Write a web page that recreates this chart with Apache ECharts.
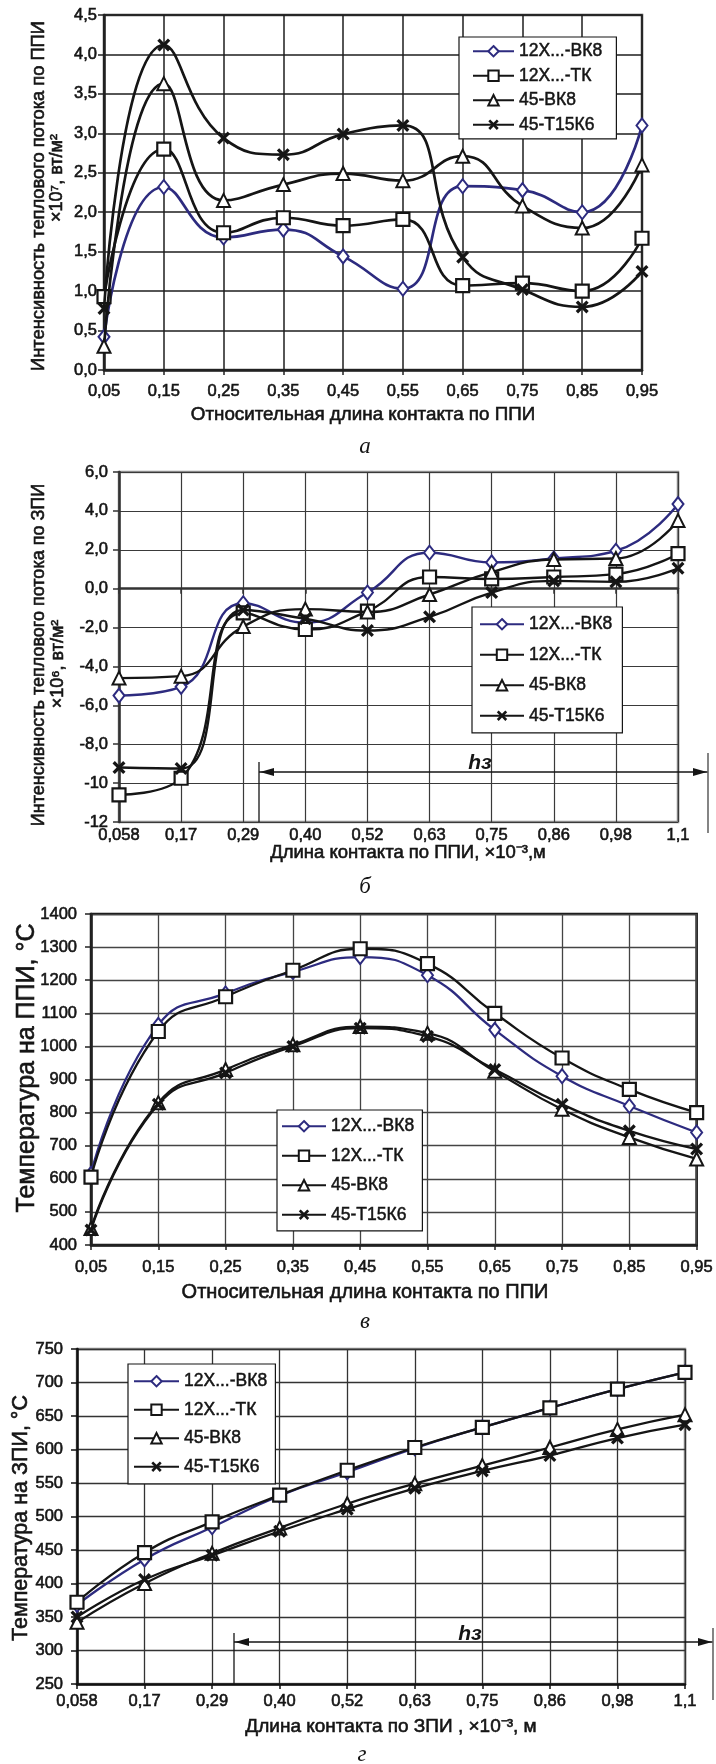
<!DOCTYPE html>
<html>
<head>
<meta charset="utf-8">
<script src="https://cdn.jsdelivr.net/npm/echarts@6.0.0/dist/echarts.min.js"></script>
<style>
  html, body { margin: 0; padding: 0; background: #fff; }
  #chart { width: 716px; height: 1764px; }
</style>
</head>
<body>
<div id="chart"></div>
<script>
// названия серий
const seriesNames = ['12Х...-ВК8', '12Х...-ТК', '45-ВК8', '45-Т15К6'];

// а) интенсивность теплового потока по ППИ, x10^7 вт/м2
const relLength = ['0,05', '0,15', '0,25', '0,35', '0,45', '0,55', '0,65', '0,75', '0,85', '0,95'];
const fluxPPI_12BK8 = [0.42, 2.32, 1.68, 1.78, 1.44, 1.03, 2.33, 2.28, 2.0, 3.1];
const fluxPPI_12TK = [0.93, 2.8, 1.74, 1.93, 1.83, 1.91, 1.07, 1.1, 1.0, 1.67];
const fluxPPI_45BK8 = [0.3, 3.63, 2.15, 2.35, 2.49, 2.4, 2.71, 2.08, 1.8, 2.6];
const fluxPPI_45T15K6 = [0.78, 4.12, 2.94, 2.73, 2.99, 3.1, 1.43, 1.02, 0.8, 1.25];

// б) интенсивность теплового потока по ЗПИ, x10^6 вт/м2
const contactLen = ['0,058', '0,17', '0,29', '0,40', '0,52', '0,63', '0,75', '0,86', '0,98', '1,1'];
const fluxZPI_12BK8 = [-5.5, -5.05, -0.75, -1.75, -0.2, 1.85, 1.35, 1.55, 1.95, 4.35];
const fluxZPI_12TK = [-10.6, -9.75, -1.25, -2.1, -1.15, 0.6, 0.5, 0.6, 0.75, 1.8];
const fluxZPI_45BK8 = [-4.6, -4.5, -1.95, -1.05, -1.2, -0.3, 0.85, 1.5, 1.55, 3.5];
const fluxZPI_45T15K6 = [-9.2, -9.25, -1.1, -1.55, -2.15, -1.45, -0.2, 0.4, 0.35, 1.05];

// в) температура на ППИ, °С
const tempPPI_12BK8 = [615, 1065, 1160, 1225, 1270, 1215, 1050, 910, 820, 740];
const tempPPI_12TK = [605, 1045, 1150, 1230, 1295, 1250, 1100, 965, 870, 800];
const tempPPI_45BK8 = [450, 830, 930, 1005, 1060, 1040, 925, 810, 725, 660];
const tempPPI_45T15K6 = [445, 825, 920, 1000, 1055, 1030, 930, 825, 745, 690];

// г) температура на ЗПИ, °С
const tempZPI_12BK8 = [368, 436, 484, 531, 566, 602, 633, 662, 690, 715];
const tempZPI_12TK = [372, 446, 492, 532, 569, 603, 633, 662, 690, 715];
const tempZPI_45BK8 = [342, 400, 445, 483, 519, 549, 576, 603, 630, 652];
const tempZPI_45T15K6 = [350, 406, 442, 478, 511, 542, 568, 591, 617, 637];

const FONT = "'Liberation Sans', Arial, sans-serif";
const SERIF = "'Liberation Serif', 'Times New Roman', serif";
const NAVY = '#2d2b7f';
const INK = '#151515';
const HEAVY = 0.6; // обводка текста, чтобы он выглядел плотнее, как в скане
const X_SYMBOL = 'path://M0,1.8 L1.8,0 L5,3.2 L8.2,0 L10,1.8 L6.8,5 L10,8.2 L8.2,10 L5,6.8 L1.8,10 L0,8.2 L3.2,5 Z';

const markers = [
  { symbol: 'diamond', symbolSize: [11, 14], itemStyle: { color: '#fff', borderColor: NAVY, borderWidth: 2 }, line: NAVY },
  { symbol: 'rect', symbolSize: 13, itemStyle: { color: '#fff', borderColor: INK, borderWidth: 2.2 }, line: INK },
  { symbol: 'triangle', symbolSize: 13, itemStyle: { color: '#fff', borderColor: INK, borderWidth: 2 }, line: INK },
  { symbol: X_SYMBOL, symbolSize: 13, itemStyle: { color: INK, borderWidth: 0 }, line: INK }
];

const comma1 = v => v.toFixed(1).replace('.', ',');

const panels = [
  {
    grid: { left: 104, top: 15, width: 538, height: 355 },
    cats: relLength,
    data: [fluxPPI_12BK8, fluxPPI_12TK, fluxPPI_45BK8, fluxPPI_45T15K6],
    min: 0, max: 4.5, interval: 0.5, fmt: comma1,
    xMargin: 13, yMargin: 7, lineWidth: 2.7,
    splitColor: '#1e1e1e', borderColor: '#444', axisColor: '#222', splitWidth: 1.5,
    legend: { left: 459, top: 37, padding: [5, 14, 5, 13], itemGap: 6, itemWidth: 41 }
  },
  {
    grid: { left: 119, top: 472, width: 559, height: 350 },
    cats: contactLen,
    data: [fluxZPI_12BK8, fluxZPI_12TK, fluxZPI_45BK8, fluxZPI_45T15K6],
    min: -12, max: 6, interval: 2, fmt: v => Math.abs(v) >= 10 ? String(v) : comma1(v),
    xMargin: 5, yMargin: 11, lineWidth: 2.4,
    splitColor: '#3a3a3a', borderColor: '#8a8a8a', axisColor: '#333', splitWidth: 1.2,
    legend: { left: 472, top: 607, padding: [8, 10, 8, 7], itemGap: 12, itemWidth: 44 }
  },
  {
    grid: { left: 91, top: 914, width: 606, height: 331 },
    cats: relLength,
    data: [tempPPI_12BK8, tempPPI_12TK, tempPPI_45BK8, tempPPI_45T15K6],
    min: 400, max: 1400, interval: 100, fmt: v => String(v),
    xMargin: 14, yMargin: 14, lineWidth: 2.3,
    splitColor: '#444', borderColor: '#111', axisColor: '#222', splitWidth: 1.3,
    legend: { left: 277, top: 1110, padding: [7, 8, 7, 4], itemGap: 11, itemWidth: 44 }
  },
  {
    grid: { left: 77, top: 1349, width: 608, height: 335 },
    cats: contactLen,
    data: [tempZPI_12BK8, tempZPI_12TK, tempZPI_45BK8, tempZPI_45T15K6],
    min: 250, max: 750, interval: 50, fmt: v => String(v),
    xMargin: 9, yMargin: 14, lineWidth: 2.3,
    splitColor: '#333', borderColor: '#8a8a8a', axisColor: '#111', splitWidth: 1.3,
    legend: { left: 128, top: 1364, padding: [8, 8, 8, 5], itemGap: 10, itemWidth: 45 }
  }
];

const option = {
  backgroundColor: '#fff',
  animation: false,
  grid: [], xAxis: [], yAxis: [], series: [], legend: [], graphic: []
};

const labelStyle = {
  color: INK, fontFamily: FONT, fontSize: 16.5,
  textBorderColor: INK, textBorderWidth: HEAVY
};

panels.forEach((p, i) => {
  option.grid.push(Object.assign({
    show: true, borderColor: p.borderColor, borderWidth: 2.5, backgroundColor: '#fff'
  }, p.grid));

  option.xAxis.push({
    gridIndex: i,
    type: 'category',
    data: p.cats,
    boundaryGap: false,
    axisLine: { lineStyle: { color: p.axisColor, width: 2.5 } },
    axisTick: { show: true, length: 5, interval: 0, lineStyle: { color: p.axisColor, width: 1.5 } },
    axisLabel: Object.assign({ interval: 0, margin: p.xMargin }, labelStyle),
    splitLine: { show: true, interval: 0, lineStyle: { color: p.splitColor, width: p.splitWidth } }
  });

  option.yAxis.push({
    gridIndex: i,
    type: 'value',
    min: p.min, max: p.max, interval: p.interval,
    axisLine: { show: true, lineStyle: { color: p.axisColor, width: 2.5 } },
    axisTick: { show: true, length: 6, lineStyle: { color: p.axisColor, width: 1.5 } },
    axisLabel: Object.assign({ margin: p.yMargin, formatter: p.fmt }, labelStyle),
    splitLine: { show: true, lineStyle: { color: p.splitColor, width: p.splitWidth } }
  });

  p.data.forEach((vals, k) => {
    const m = markers[k];
    option.series.push({
      name: seriesNames[k],
      type: 'line',
      xAxisIndex: i, yAxisIndex: i,
      data: vals,
      smooth: 0.5,
      symbol: m.symbol,
      symbolSize: m.symbolSize,
      showAllSymbol: true,
      itemStyle: m.itemStyle,
      lineStyle: { color: m.line, width: p.lineWidth },
      z: 3 + k
    });
  });

  option.legend.push({
    data: seriesNames,
    orient: 'vertical',
    left: p.legend.left, top: p.legend.top,
    padding: p.legend.padding,
    itemGap: p.legend.itemGap,
    itemWidth: p.legend.itemWidth,
    itemHeight: 13,
    selectedMode: false,
    backgroundColor: '#fff',
    borderColor: INK, borderWidth: 1.2,
    textStyle: { color: INK, fontFamily: FONT, fontSize: 17.5, textBorderColor: INK, textBorderWidth: HEAVY * 0.8 }
  });
});

// подписи осей и рисунков
function txt(text, x, y, size, extra) {
  return Object.assign({
    type: 'text', x: x, y: y, z: 100,
    style: Object.assign({
      text: text, fill: INK, fontFamily: FONT, fontSize: size,
      align: 'center', verticalAlign: 'middle',
      stroke: INK, lineWidth: HEAVY
    }, extra && extra.style)
  }, extra && extra.el);
}
const up = { el: { rotation: Math.PI / 2 } };
const caption = { style: { fontFamily: SERIF, fontStyle: 'italic', lineWidth: 0 } };

option.graphic.push(
  txt('Интенсивность теплового потока по ППИ', 39, 196, 18.3, up),
  txt('×10⁷, вт/м²', 57, 178, 18, up),
  txt('Относительная длина контакта по ППИ', 363, 415, 18.8),
  txt('а', 365, 447, 23, caption),

  txt('Интенсивность теплового потока по ЗПИ', 39, 655, 18, up),
  txt('×10⁶, вт/м²', 58, 664, 18, up),
  txt('Длина контакта по ППИ, ×10⁻³,м', 408, 853, 18.5),
  txt('б', 365, 887, 23, caption),

  txt('Температура на ППИ, °С', 27, 1068, 25, up),
  txt('Относительная длина контакта по ППИ', 365, 1292, 20),
  txt('в', 365, 1322, 23, caption),

  txt('Температура на ЗПИ, °С', 21, 1518, 21.5, up),
  txt('Длина контакта по ЗПИ , ×10⁻³, м', 391, 1727, 19),
  txt('г', 362, 1755, 23, caption)
);

// зона hз (стрелка) на графиках б и г
function hzone(x1, x2, yTop, yBottom, yArrow, rTop, rBottom, tx, ty) {
  const ln = (ax, ay, bx, by, c, w) => ({
    type: 'line', z: 100, shape: { x1: ax, y1: ay, x2: bx, y2: by },
    style: { stroke: c, lineWidth: w }
  });
  return [
    ln(x1, yTop, x1, yBottom, INK, 1.3),
    ln(x1, yArrow, x2, yArrow, INK, 1.3),
    ln(x2, rTop, x2, rBottom, '#666', 1.6),
    { type: 'polygon', z: 100, shape: { points: [[x1 + 1, yArrow], [x1 + 15, yArrow - 4], [x1 + 15, yArrow + 4]] }, style: { fill: INK } },
    { type: 'polygon', z: 100, shape: { points: [[x2 - 1, yArrow], [x2 - 15, yArrow - 4], [x2 - 15, yArrow + 4]] }, style: { fill: INK } },
    txt('hз', tx, ty, 21, { style: { fontStyle: 'italic', fontWeight: 'bold', lineWidth: 0 } })
  ];
}
option.graphic.push(...hzone(259, 708, 762, 822, 772, 753, 833, 480, 763));
option.graphic.push(...hzone(234, 713, 1633, 1684, 1642, 1628, 1700, 470, 1634));

const chart = echarts.init(document.getElementById('chart'));
chart.setOption(option);
</script>
</body>
</html>
